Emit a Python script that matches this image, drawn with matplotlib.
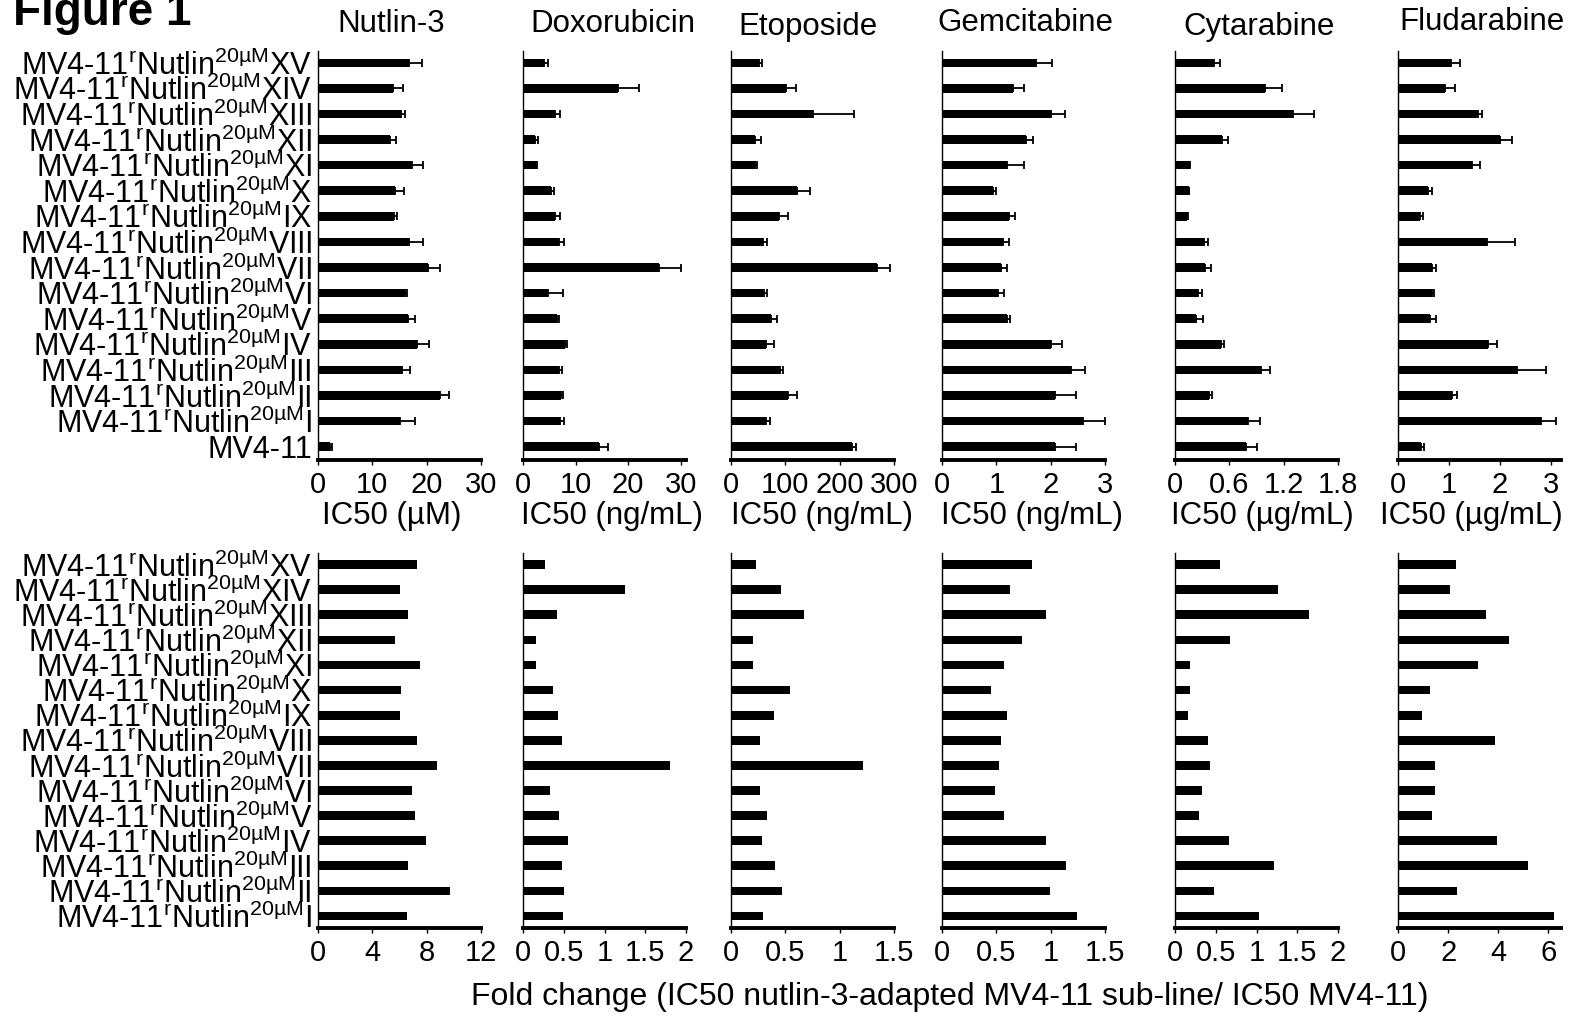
import numpy as np
import matplotlib
matplotlib.use('Agg')
import matplotlib.pyplot as plt

plt.rcParams['font.family'] = ['Liberation Sans', 'DejaVu Sans']
plt.rcParams['mathtext.fontset'] = 'custom'
plt.rcParams['mathtext.rm'] = 'Liberation Sans'
plt.rcParams['mathtext.default'] = 'rm'

# sub-lines listed top to bottom as in the figure
SUBLINES = ['XV', 'XIV', 'XIII', 'XII', 'XI', 'X', 'IX', 'VIII', 'VII', 'VI', 'V', 'IV', 'III', 'II', 'I']
PARENT = 'MV4-11'
DRUGS = ['Nutlin-3', 'Doxorubicin', 'Etoposide', 'Gemcitabine', 'Cytarabine', 'Fludarabine']
UNITS = ['IC50 (µM)', 'IC50 (ng/mL)', 'IC50 (ng/mL)', 'IC50 (ng/mL)', 'IC50 (µg/mL)', 'IC50 (µg/mL)']

# IC50 (sub-lines XV..I, then parental MV4-11) and SD
nutlin_ic50 = [16.8, 13.8, 15.3, 13.2, 17.3, 14.1, 14.0, 16.8, 20.2, 16.1, 16.5, 18.2, 15.4, 22.5, 15.1, 2.3]
nutlin_sd = [2.4, 1.8, 0.8, 1.1, 2.0, 1.7, 0.6, 2.5, 2.3, 0.2, 1.4, 2.2, 1.6, 1.6, 2.8, 0.3]
doxo_ic50 = [4.0, 18.0, 6.0, 2.2, 2.4, 5.4, 6.1, 6.9, 25.9, 4.7, 6.5, 8.0, 6.9, 7.3, 7.1, 14.4]
doxo_sd = [0.7, 4.0, 1.1, 0.6, 0.25, 0.5, 1.0, 0.9, 4.1, 2.9, 0.4, 0.3, 0.6, 0.3, 0.7, 1.8]
etop_ic50 = [51, 101, 150, 45, 45, 122, 88, 59, 269, 60, 73, 64, 91, 104, 65, 222]
etop_sd = [6, 19, 77, 10, 3, 24, 17, 8, 24, 7, 11, 15, 4, 18, 6, 8]
gem_ic50 = [1.73, 1.31, 2.0, 1.55, 1.20, 0.94, 1.24, 1.13, 1.09, 1.03, 1.20, 2.0, 2.38, 2.08, 2.59, 2.08]
gem_sd = [0.30, 0.20, 0.26, 0.12, 0.31, 0.05, 0.10, 0.10, 0.10, 0.12, 0.06, 0.20, 0.25, 0.38, 0.41, 0.38]
cyt_ic50 = [0.43, 0.99, 1.30, 0.52, 0.155, 0.155, 0.13, 0.32, 0.33, 0.256, 0.228, 0.51, 0.955, 0.38, 0.81, 0.786]
cyt_sd = [0.07, 0.19, 0.24, 0.065, 0.01, 0.005, 0.016, 0.045, 0.07, 0.041, 0.082, 0.03, 0.091, 0.026, 0.13, 0.119]
flud_ic50 = [1.04, 0.93, 1.58, 2.0, 1.45, 0.58, 0.44, 1.75, 0.665, 0.66, 0.62, 1.77, 2.34, 1.06, 2.80, 0.46]
flud_sd = [0.18, 0.19, 0.07, 0.24, 0.15, 0.08, 0.05, 0.54, 0.075, 0.05, 0.12, 0.18, 0.56, 0.09, 0.31, 0.06]

# fold change sub-line / parental (XV..I)
nutlin_fc = [7.3, 6.0, 6.63, 5.7, 7.5, 6.1, 6.06, 7.3, 8.74, 6.93, 7.13, 7.92, 6.66, 9.75, 6.53]
doxo_fc = [0.275, 1.25, 0.42, 0.156, 0.164, 0.37, 0.426, 0.48, 1.80, 0.336, 0.447, 0.553, 0.48, 0.50, 0.49]
etop_fc = [0.227, 0.458, 0.676, 0.206, 0.206, 0.547, 0.397, 0.264, 1.211, 0.27, 0.329, 0.289, 0.409, 0.47, 0.292]
gem_fc = [0.83, 0.623, 0.96, 0.738, 0.573, 0.45, 0.596, 0.542, 0.523, 0.492, 0.573, 0.958, 1.138, 0.996, 1.242]
cyt_fc = [0.554, 1.267, 1.646, 0.672, 0.185, 0.185, 0.159, 0.40, 0.426, 0.328, 0.292, 0.662, 1.215, 0.482, 1.036]
flud_fc = [2.32, 2.07, 3.49, 4.44, 3.2, 1.29, 0.95, 3.88, 1.47, 1.46, 1.37, 3.95, 5.19, 2.34, 6.22]

top_ticks = [[0, 10, 20, 30], [0, 10, 20, 30], [0, 100, 200, 300], [0, 1, 2, 3], [0, 0.6, 1.2, 1.8], [0, 1, 2, 3]]
top_ticklabels = [['0', '10', '20', '30'], ['0', '10', '20', '30'], ['0', '100', '200', '300'],
                  ['0', '1', '2', '3'], ['0', '0.6', '1.2', '1.8'], ['0', '1', '2', '3']]
bot_ticks = [[0, 4, 8, 12], [0, 0.5, 1, 1.5, 2], [0, 0.5, 1, 1.5], [0, 0.5, 1, 1.5], [0, 0.5, 1, 1.5, 2], [0, 2, 4, 6]]
bot_ticklabels = [['0', '4', '8', '12'], ['0', '0.5', '1', '1.5', '2'], ['0', '0.5', '1', '1.5'],
                  ['0', '0.5', '1', '1.5'], ['0', '0.5', '1', '1.5', '2'], ['0', '2', '4', '6']]

top_vals = [nutlin_ic50, doxo_ic50, etop_ic50, gem_ic50, cyt_ic50, flud_ic50]
top_sds = [nutlin_sd, doxo_sd, etop_sd, gem_sd, cyt_sd, flud_sd]
bot_vals = [nutlin_fc, doxo_fc, etop_fc, gem_fc, cyt_fc, flud_fc]

W, H = 1572, 1016
FS = 21
FS_TXT = 22.5
LEFTS = [318, 523, 731, 942, 1175, 1398]
PW = 163
TOP_XMAX = [30, 31, 300, 3, 1.8, 3.2]
BOT_XMAX = [12, 2, 1.5, 1.5, 2, 6.5]
TITLE_X = [391, 613, 808, 1025, 1259, 1482]
TITLE_BASE = [32, 32, 34.5, 31, 34.5, 30]
UNIT_X = [392, 612, 822, 1032, 1262, 1471]


def label(s):
    return r'MV4-11$^{r}$Nutlin$^{20µM}$' + s


def style(ax):
    for side in ['top', 'right']:
        ax.spines[side].set_visible(False)
    ax.spines['left'].set_linewidth(1.0)
    ax.spines['bottom'].set_linewidth(2.8)
    ax.tick_params(axis='y', left=False, pad=1, labelsize=22)
    ax.tick_params(axis='x', direction='out', length=3.5, width=1.0, pad=4.5, labelsize=FS)


fig = plt.figure(figsize=(W / 100, H / 100), dpi=100)

top_labels = [label(s) for s in SUBLINES] + [PARENT]
n_top = len(top_labels)
y_top = np.arange(n_top)[::-1]
y_bot = np.arange(len(SUBLINES))[::-1]

for i in range(6):
    ax = fig.add_axes([LEFTS[i] / W, 556 / H, PW / W, 409.3 / H])
    ax.barh(y_top, top_vals[i], height=0.33, color='black',
            xerr=[np.zeros(n_top), top_sds[i]], ecolor='black',
            error_kw=dict(elinewidth=1.3, capsize=3, capthick=1.3))
    ax.set_xlim(0, TOP_XMAX[i])
    ax.set_ylim(-0.52, n_top - 1 + 0.47)
    ax.set_xticks(top_ticks[i])
    ax.set_xticklabels(top_ticklabels[i])
    if i == 0:
        ax.set_yticks(y_top)
        ax.set_yticklabels(top_labels)
    else:
        ax.set_yticks([])
    style(ax)
    fig.text(TITLE_X[i] / W, 1 - TITLE_BASE[i] / H, DRUGS[i], fontsize=FS_TXT, ha='center', va='baseline')
    fig.text(UNIT_X[i] / W, 1 - 524 / H, UNITS[i], fontsize=FS_TXT, ha='center', va='baseline')

    ax2 = fig.add_axes([LEFTS[i] / W, 87.7 / H, PW / W, 375 / H])
    ax2.barh(y_bot, bot_vals[i], height=0.35, color='black')
    ax2.set_xlim(0, BOT_XMAX[i])
    ax2.set_ylim(-0.49, len(SUBLINES) - 1 + 0.45)
    ax2.set_xticks(bot_ticks[i])
    ax2.set_xticklabels(bot_ticklabels[i])
    if i == 0:
        ax2.set_yticks(y_bot)
        ax2.set_yticklabels([label(s) for s in SUBLINES])
    else:
        ax2.set_yticks([])
    style(ax2)

fig.text(0.008, 1 - 25 / H, 'Figure 1', fontsize=33, fontweight='bold', va='baseline')
fig.text(950 / W, 1 - 1005 / H, 'Fold change (IC50 nutlin-3-adapted MV4-11 sub-line/ IC50 MV4-11)',
         fontsize=23, ha='center', va='baseline')

fig.savefig('out.png', dpi=100)
